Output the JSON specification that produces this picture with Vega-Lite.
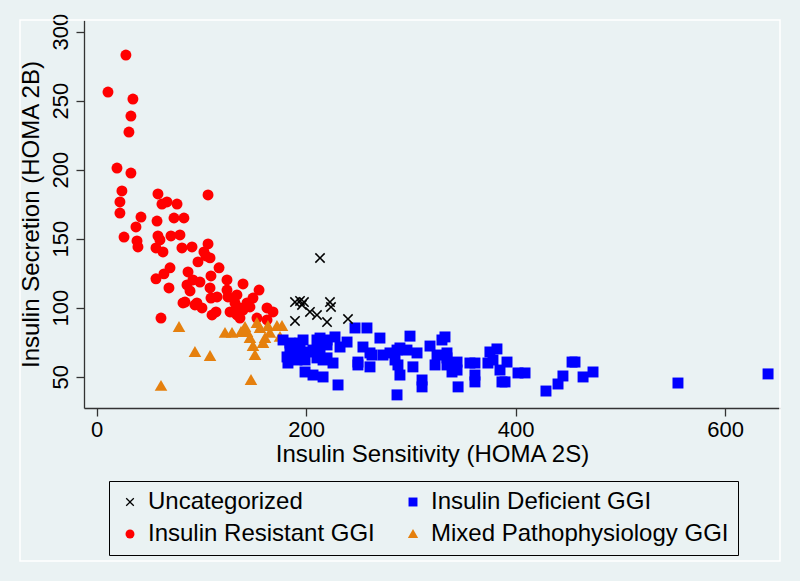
{
  "$schema": "https://vega.github.io/schema/vega-lite/v6.json",
  "width": 696,
  "height": 388,
  "autosize": {"type": "none"},
  "padding": {"left": 84, "top": 20, "right": 20, "bottom": 173},
  "background": "#eaf2f3",
  "config": {
    "font": "Liberation Sans",
    "view": {"stroke": null, "fill": "#eaf2f3"},
    "axis": {
      "grid": false,
      "domainColor": "#333333",
      "domainWidth": 1.3,
      "tickColor": "#333333",
      "tickWidth": 1.3,
      "tickSize": 8,
      "labelFont": "Liberation Sans",
      "labelFontSize": 22,
      "labelColor": "#000000",
      "titleFont": "Liberation Sans",
      "titleFontSize": 24,
      "titleFontWeight": "normal",
      "titleColor": "#000000"
    }
  },
  "data": {"values": [
      {"sens": 10.8, "sec": 256.3, "group": "Insulin Resistant GGI"},
      {"sens": 27.9, "sec": 283.1, "group": "Insulin Resistant GGI"},
      {"sens": 34.6, "sec": 251.2, "group": "Insulin Resistant GGI"},
      {"sens": 32.7, "sec": 238.9, "group": "Insulin Resistant GGI"},
      {"sens": 30.8, "sec": 227.3, "group": "Insulin Resistant GGI"},
      {"sens": 19.4, "sec": 201.2, "group": "Insulin Resistant GGI"},
      {"sens": 32.7, "sec": 197.6, "group": "Insulin Resistant GGI"},
      {"sens": 24.1, "sec": 184.6, "group": "Insulin Resistant GGI"},
      {"sens": 58.5, "sec": 182.4, "group": "Insulin Resistant GGI"},
      {"sens": 106.3, "sec": 181.7, "group": "Insulin Resistant GGI"},
      {"sens": 22.2, "sec": 176.6, "group": "Insulin Resistant GGI"},
      {"sens": 62.3, "sec": 175.1, "group": "Insulin Resistant GGI"},
      {"sens": 67.1, "sec": 176.6, "group": "Insulin Resistant GGI"},
      {"sens": 76.7, "sec": 175.1, "group": "Insulin Resistant GGI"},
      {"sens": 22.2, "sec": 168.6, "group": "Insulin Resistant GGI"},
      {"sens": 42.3, "sec": 165.7, "group": "Insulin Resistant GGI"},
      {"sens": 57.6, "sec": 162.8, "group": "Insulin Resistant GGI"},
      {"sens": 73.8, "sec": 165.0, "group": "Insulin Resistant GGI"},
      {"sens": 83.3, "sec": 165.0, "group": "Insulin Resistant GGI"},
      {"sens": 37.5, "sec": 158.5, "group": "Insulin Resistant GGI"},
      {"sens": 26.1, "sec": 151.2, "group": "Insulin Resistant GGI"},
      {"sens": 58.5, "sec": 152.0, "group": "Insulin Resistant GGI"},
      {"sens": 70.9, "sec": 152.0, "group": "Insulin Resistant GGI"},
      {"sens": 79.5, "sec": 152.7, "group": "Insulin Resistant GGI"},
      {"sens": 38.5, "sec": 148.4, "group": "Insulin Resistant GGI"},
      {"sens": 39.4, "sec": 144.0, "group": "Insulin Resistant GGI"},
      {"sens": 56.6, "sec": 143.3, "group": "Insulin Resistant GGI"},
      {"sens": 63.3, "sec": 140.4, "group": "Insulin Resistant GGI"},
      {"sens": 60.4, "sec": 149.1, "group": "Insulin Resistant GGI"},
      {"sens": 81.4, "sec": 143.3, "group": "Insulin Resistant GGI"},
      {"sens": 91.0, "sec": 144.0, "group": "Insulin Resistant GGI"},
      {"sens": 106.3, "sec": 146.2, "group": "Insulin Resistant GGI"},
      {"sens": 102.4, "sec": 140.4, "group": "Insulin Resistant GGI"},
      {"sens": 108.2, "sec": 136.1, "group": "Insulin Resistant GGI"},
      {"sens": 96.7, "sec": 133.2, "group": "Insulin Resistant GGI"},
      {"sens": 116.8, "sec": 128.9, "group": "Insulin Resistant GGI"},
      {"sens": 70.0, "sec": 128.9, "group": "Insulin Resistant GGI"},
      {"sens": 64.2, "sec": 124.5, "group": "Insulin Resistant GGI"},
      {"sens": 56.6, "sec": 120.9, "group": "Insulin Resistant GGI"},
      {"sens": 87.2, "sec": 125.9, "group": "Insulin Resistant GGI"},
      {"sens": 91.9, "sec": 120.1, "group": "Insulin Resistant GGI"},
      {"sens": 98.6, "sec": 118.6, "group": "Insulin Resistant GGI"},
      {"sens": 109.1, "sec": 123.0, "group": "Insulin Resistant GGI"},
      {"sens": 124.4, "sec": 120.1, "group": "Insulin Resistant GGI"},
      {"sens": 139.7, "sec": 117.2, "group": "Insulin Resistant GGI"},
      {"sens": 69.0, "sec": 114.3, "group": "Insulin Resistant GGI"},
      {"sens": 86.2, "sec": 116.5, "group": "Insulin Resistant GGI"},
      {"sens": 89.1, "sec": 112.1, "group": "Insulin Resistant GGI"},
      {"sens": 108.2, "sec": 114.3, "group": "Insulin Resistant GGI"},
      {"sens": 114.9, "sec": 107.8, "group": "Insulin Resistant GGI"},
      {"sens": 124.4, "sec": 112.8, "group": "Insulin Resistant GGI"},
      {"sens": 133.9, "sec": 109.2, "group": "Insulin Resistant GGI"},
      {"sens": 155.0, "sec": 112.8, "group": "Insulin Resistant GGI"},
      {"sens": 82.4, "sec": 103.4, "group": "Insulin Resistant GGI"},
      {"sens": 95.7, "sec": 103.4, "group": "Insulin Resistant GGI"},
      {"sens": 100.5, "sec": 99.8, "group": "Insulin Resistant GGI"},
      {"sens": 110.1, "sec": 94.7, "group": "Insulin Resistant GGI"},
      {"sens": 113.9, "sec": 96.9, "group": "Insulin Resistant GGI"},
      {"sens": 127.3, "sec": 96.9, "group": "Insulin Resistant GGI"},
      {"sens": 133.9, "sec": 94.7, "group": "Insulin Resistant GGI"},
      {"sens": 139.7, "sec": 98.3, "group": "Insulin Resistant GGI"},
      {"sens": 143.5, "sec": 103.4, "group": "Insulin Resistant GGI"},
      {"sens": 149.2, "sec": 107.0, "group": "Insulin Resistant GGI"},
      {"sens": 162.6, "sec": 99.8, "group": "Insulin Resistant GGI"},
      {"sens": 168.3, "sec": 96.9, "group": "Insulin Resistant GGI"},
      {"sens": 162.6, "sec": 91.1, "group": "Insulin Resistant GGI"},
      {"sens": 61.4, "sec": 92.5, "group": "Insulin Resistant GGI"},
      {"sens": 132.0, "sec": 103.4, "group": "Insulin Resistant GGI"},
      {"sens": 136.8, "sec": 99.8, "group": "Insulin Resistant GGI"},
      {"sens": 84.3, "sec": 104.1, "group": "Insulin Resistant GGI"},
      {"sens": 93.8, "sec": 102.0, "group": "Insulin Resistant GGI"},
      {"sens": 125.3, "sec": 107.8, "group": "Insulin Resistant GGI"},
      {"sens": 146.3, "sec": 100.5, "group": "Insulin Resistant GGI"},
      {"sens": 153.0, "sec": 92.5, "group": "Insulin Resistant GGI"},
      {"sens": 130.1, "sec": 96.9, "group": "Insulin Resistant GGI"},
      {"sens": 136.8, "sec": 92.5, "group": "Insulin Resistant GGI"},
      {"sens": 109.1, "sec": 107.0, "group": "Insulin Resistant GGI"},
      {"sens": 104.3, "sec": 137.5, "group": "Insulin Resistant GGI"},
      {"sens": 78.6, "sec": 86.0, "group": "Mixed Pathophysiology GGI"},
      {"sens": 93.8, "sec": 67.9, "group": "Mixed Pathophysiology GGI"},
      {"sens": 108.2, "sec": 65.0, "group": "Mixed Pathophysiology GGI"},
      {"sens": 61.4, "sec": 43.3, "group": "Mixed Pathophysiology GGI"},
      {"sens": 147.3, "sec": 47.6, "group": "Mixed Pathophysiology GGI"},
      {"sens": 151.1, "sec": 65.7, "group": "Mixed Pathophysiology GGI"},
      {"sens": 122.5, "sec": 81.7, "group": "Mixed Pathophysiology GGI"},
      {"sens": 129.2, "sec": 81.7, "group": "Mixed Pathophysiology GGI"},
      {"sens": 137.8, "sec": 82.4, "group": "Mixed Pathophysiology GGI"},
      {"sens": 143.5, "sec": 82.4, "group": "Mixed Pathophysiology GGI"},
      {"sens": 146.3, "sec": 78.0, "group": "Mixed Pathophysiology GGI"},
      {"sens": 149.2, "sec": 72.2, "group": "Mixed Pathophysiology GGI"},
      {"sens": 153.0, "sec": 88.9, "group": "Mixed Pathophysiology GGI"},
      {"sens": 155.9, "sec": 85.3, "group": "Mixed Pathophysiology GGI"},
      {"sens": 163.5, "sec": 86.7, "group": "Mixed Pathophysiology GGI"},
      {"sens": 160.7, "sec": 78.0, "group": "Mixed Pathophysiology GGI"},
      {"sens": 158.8, "sec": 74.4, "group": "Mixed Pathophysiology GGI"},
      {"sens": 172.1, "sec": 86.7, "group": "Mixed Pathophysiology GGI"},
      {"sens": 176.9, "sec": 86.7, "group": "Mixed Pathophysiology GGI"},
      {"sens": 175.0, "sec": 78.8, "group": "Mixed Pathophysiology GGI"},
      {"sens": 141.6, "sec": 86.0, "group": "Mixed Pathophysiology GGI"},
      {"sens": 165.4, "sec": 81.7, "group": "Mixed Pathophysiology GGI"},
      {"sens": 177.9, "sec": 76.6, "group": "Insulin Deficient GGI"},
      {"sens": 184.5, "sec": 71.5, "group": "Insulin Deficient GGI"},
      {"sens": 184.5, "sec": 74.4, "group": "Insulin Deficient GGI"},
      {"sens": 194.1, "sec": 74.4, "group": "Insulin Deficient GGI"},
      {"sens": 197.0, "sec": 76.6, "group": "Insulin Deficient GGI"},
      {"sens": 210.3, "sec": 76.6, "group": "Insulin Deficient GGI"},
      {"sens": 213.2, "sec": 78.0, "group": "Insulin Deficient GGI"},
      {"sens": 219.9, "sec": 76.6, "group": "Insulin Deficient GGI"},
      {"sens": 227.5, "sec": 78.8, "group": "Insulin Deficient GGI"},
      {"sens": 239.0, "sec": 75.1, "group": "Insulin Deficient GGI"},
      {"sens": 232.3, "sec": 71.5, "group": "Insulin Deficient GGI"},
      {"sens": 219.9, "sec": 73.0, "group": "Insulin Deficient GGI"},
      {"sens": 181.7, "sec": 64.3, "group": "Insulin Deficient GGI"},
      {"sens": 182.6, "sec": 59.9, "group": "Insulin Deficient GGI"},
      {"sens": 191.2, "sec": 62.1, "group": "Insulin Deficient GGI"},
      {"sens": 197.0, "sec": 63.6, "group": "Insulin Deficient GGI"},
      {"sens": 198.9, "sec": 62.1, "group": "Insulin Deficient GGI"},
      {"sens": 210.3, "sec": 63.6, "group": "Insulin Deficient GGI"},
      {"sens": 216.1, "sec": 62.1, "group": "Insulin Deficient GGI"},
      {"sens": 219.9, "sec": 63.6, "group": "Insulin Deficient GGI"},
      {"sens": 225.6, "sec": 59.9, "group": "Insulin Deficient GGI"},
      {"sens": 198.9, "sec": 53.4, "group": "Insulin Deficient GGI"},
      {"sens": 206.5, "sec": 51.2, "group": "Insulin Deficient GGI"},
      {"sens": 216.1, "sec": 49.8, "group": "Insulin Deficient GGI"},
      {"sens": 230.4, "sec": 44.0, "group": "Insulin Deficient GGI"},
      {"sens": 189.3, "sec": 69.3, "group": "Insulin Deficient GGI"},
      {"sens": 203.6, "sec": 67.9, "group": "Insulin Deficient GGI"},
      {"sens": 206.5, "sec": 69.3, "group": "Insulin Deficient GGI"},
      {"sens": 213.2, "sec": 69.3, "group": "Insulin Deficient GGI"},
      {"sens": 194.1, "sec": 67.2, "group": "Insulin Deficient GGI"},
      {"sens": 246.6, "sec": 85.3, "group": "Insulin Deficient GGI"},
      {"sens": 258.0, "sec": 85.3, "group": "Insulin Deficient GGI"},
      {"sens": 270.4, "sec": 78.0, "group": "Insulin Deficient GGI"},
      {"sens": 299.1, "sec": 79.4, "group": "Insulin Deficient GGI"},
      {"sens": 332.5, "sec": 78.8, "group": "Insulin Deficient GGI"},
      {"sens": 329.6, "sec": 76.6, "group": "Insulin Deficient GGI"},
      {"sens": 318.2, "sec": 72.2, "group": "Insulin Deficient GGI"},
      {"sens": 254.2, "sec": 71.5, "group": "Insulin Deficient GGI"},
      {"sens": 260.9, "sec": 67.2, "group": "Insulin Deficient GGI"},
      {"sens": 273.3, "sec": 65.7, "group": "Insulin Deficient GGI"},
      {"sens": 280.0, "sec": 67.2, "group": "Insulin Deficient GGI"},
      {"sens": 286.7, "sec": 69.3, "group": "Insulin Deficient GGI"},
      {"sens": 289.5, "sec": 70.8, "group": "Insulin Deficient GGI"},
      {"sens": 296.2, "sec": 69.3, "group": "Insulin Deficient GGI"},
      {"sens": 305.8, "sec": 67.2, "group": "Insulin Deficient GGI"},
      {"sens": 262.8, "sec": 65.7, "group": "Insulin Deficient GGI"},
      {"sens": 249.4, "sec": 60.6, "group": "Insulin Deficient GGI"},
      {"sens": 249.4, "sec": 58.5, "group": "Insulin Deficient GGI"},
      {"sens": 260.9, "sec": 57.1, "group": "Insulin Deficient GGI"},
      {"sens": 287.6, "sec": 58.5, "group": "Insulin Deficient GGI"},
      {"sens": 284.8, "sec": 62.1, "group": "Insulin Deficient GGI"},
      {"sens": 301.9, "sec": 57.1, "group": "Insulin Deficient GGI"},
      {"sens": 289.5, "sec": 51.2, "group": "Insulin Deficient GGI"},
      {"sens": 310.6, "sec": 47.6, "group": "Insulin Deficient GGI"},
      {"sens": 310.6, "sec": 42.6, "group": "Insulin Deficient GGI"},
      {"sens": 286.7, "sec": 36.8, "group": "Insulin Deficient GGI"},
      {"sens": 323.0, "sec": 58.5, "group": "Insulin Deficient GGI"},
      {"sens": 324.9, "sec": 65.7, "group": "Insulin Deficient GGI"},
      {"sens": 334.4, "sec": 67.2, "group": "Insulin Deficient GGI"},
      {"sens": 334.4, "sec": 63.6, "group": "Insulin Deficient GGI"},
      {"sens": 334.4, "sec": 58.5, "group": "Insulin Deficient GGI"},
      {"sens": 344.0, "sec": 60.6, "group": "Insulin Deficient GGI"},
      {"sens": 344.0, "sec": 54.8, "group": "Insulin Deficient GGI"},
      {"sens": 345.0, "sec": 42.6, "group": "Insulin Deficient GGI"},
      {"sens": 356.3, "sec": 59.9, "group": "Insulin Deficient GGI"},
      {"sens": 361.1, "sec": 51.2, "group": "Insulin Deficient GGI"},
      {"sens": 361.1, "sec": 59.9, "group": "Insulin Deficient GGI"},
      {"sens": 339.2, "sec": 53.4, "group": "Insulin Deficient GGI"},
      {"sens": 361.1, "sec": 46.2, "group": "Insulin Deficient GGI"},
      {"sens": 375.4, "sec": 67.9, "group": "Insulin Deficient GGI"},
      {"sens": 382.1, "sec": 70.1, "group": "Insulin Deficient GGI"},
      {"sens": 373.5, "sec": 59.9, "group": "Insulin Deficient GGI"},
      {"sens": 378.3, "sec": 62.1, "group": "Insulin Deficient GGI"},
      {"sens": 391.7, "sec": 60.6, "group": "Insulin Deficient GGI"},
      {"sens": 385.0, "sec": 54.8, "group": "Insulin Deficient GGI"},
      {"sens": 386.9, "sec": 46.2, "group": "Insulin Deficient GGI"},
      {"sens": 389.8, "sec": 46.2, "group": "Insulin Deficient GGI"},
      {"sens": 402.2, "sec": 52.7, "group": "Insulin Deficient GGI"},
      {"sens": 408.9, "sec": 52.7, "group": "Insulin Deficient GGI"},
      {"sens": 428.9, "sec": 39.6, "group": "Insulin Deficient GGI"},
      {"sens": 440.4, "sec": 44.7, "group": "Insulin Deficient GGI"},
      {"sens": 445.1, "sec": 50.5, "group": "Insulin Deficient GGI"},
      {"sens": 453.8, "sec": 60.6, "group": "Insulin Deficient GGI"},
      {"sens": 456.6, "sec": 60.6, "group": "Insulin Deficient GGI"},
      {"sens": 464.3, "sec": 49.8, "group": "Insulin Deficient GGI"},
      {"sens": 473.8, "sec": 53.4, "group": "Insulin Deficient GGI"},
      {"sens": 554.9, "sec": 45.4, "group": "Insulin Deficient GGI"},
      {"sens": 640.9, "sec": 52.0, "group": "Insulin Deficient GGI"},
      {"sens": 213.2, "sec": 136.0, "group": "Uncategorized"},
      {"sens": 189.3, "sec": 104.1, "group": "Uncategorized"},
      {"sens": 194.1, "sec": 104.9, "group": "Uncategorized"},
      {"sens": 197.9, "sec": 104.1, "group": "Uncategorized"},
      {"sens": 196.0, "sec": 102.0, "group": "Uncategorized"},
      {"sens": 203.6, "sec": 96.9, "group": "Uncategorized"},
      {"sens": 210.3, "sec": 94.7, "group": "Uncategorized"},
      {"sens": 222.7, "sec": 104.1, "group": "Uncategorized"},
      {"sens": 223.7, "sec": 100.5, "group": "Uncategorized"},
      {"sens": 219.9, "sec": 89.6, "group": "Uncategorized"},
      {"sens": 189.3, "sec": 90.4, "group": "Uncategorized"},
      {"sens": 239.9, "sec": 91.8, "group": "Uncategorized"}
  ]},
  "layer": [
    {
      "data": {"values": [{"frame": 1}]},
      "mark": {"type": "rect", "fill": "transparent", "stroke": "#ffffff", "strokeWidth": 1.5, "clip": false},
      "encoding": {
        "x": {"datum": -73.2, "type": "quantitative"},
        "x2": {"datum": 652.3},
        "y": {"datum": 308.5, "type": "quantitative"},
        "y2": {"datum": -83.6}
      }
    },
    {
      "mark": {"type": "point", "filled": true, "opacity": 1, "size": 120},
      "encoding": {
        "x": {
          "field": "sens",
          "type": "quantitative",
          "scale": {"domain": [-12.1, 652.3], "nice": false, "zero": false},
          "axis": {"values": [0, 200, 400, 600], "title": "Insulin Sensitivity (HOMA 2S)", "labelPadding": 3, "titlePadding": 2, "labelFlush": false}
        },
        "y": {
          "field": "sec",
          "type": "quantitative",
          "scale": {"domain": [27.3, 308.5], "nice": false, "zero": false},
          "axis": {"values": [50, 100, 150, 200, 250, 300], "title": "Insulin Secretion (HOMA 2B)", "labelAngle": -90, "labelAlign": "center", "labelBaseline": "bottom", "labelPadding": 4, "titlePadding": 6, "labelFlush": false}
        },
        "color": {
          "field": "group",
          "type": "nominal",
          "scale": {
            "domain": ["Uncategorized", "Insulin Deficient GGI", "Insulin Resistant GGI", "Mixed Pathophysiology GGI"],
            "range": ["#000000", "#0000ff", "#ff0000", "#e5800e"]
          },
          "legend": {
            "title": null,
            "orient": "none",
            "legendX": 25,
            "legendY": 461,
            "columns": 2,
            "direction": "horizontal",
            "strokeColor": "#000000",
            "padding": 9,
            "rowPadding": 8,
            "columnPadding": 26,
            "symbolSize": 80,
            "labelOffset": 6,
            "labelFontSize": 24,
            "labelFont": "Liberation Sans",
            "labelColor": "#000000",
            "labelLimit": 400
          }
        },
        "shape": {
          "field": "group",
          "type": "nominal",
          "scale": {
            "domain": ["Uncategorized", "Insulin Deficient GGI", "Insulin Resistant GGI", "Mixed Pathophysiology GGI"],
            "range": ["M0,-0.2L0.75,-0.95L0.95,-0.75L0.2,0L0.95,0.75L0.75,0.95L0,0.2L-0.75,0.95L-0.95,0.75L-0.2,0L-0.95,-0.75L-0.75,-0.95Z", "square", "circle", "M0,-1.1L1.15,0.9L-1.15,0.9Z"]
          }
        }
      }
    }
  ]
}
